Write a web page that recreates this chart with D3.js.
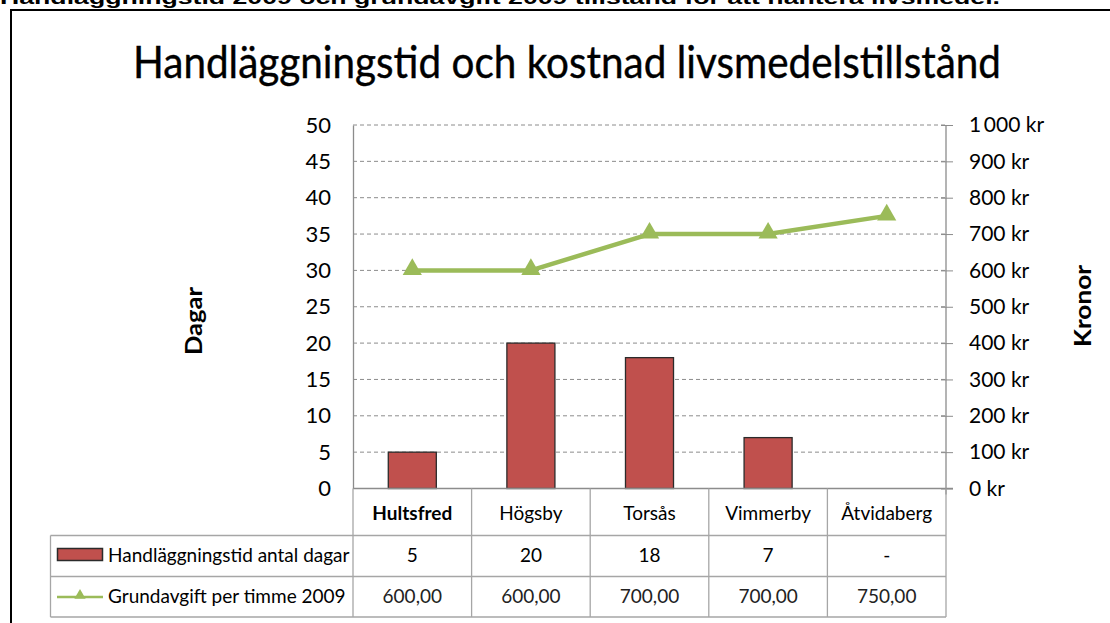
<!DOCTYPE html>
<html>
<head>
<meta charset="utf-8">
<script src="https://cdn.jsdelivr.net/npm/d3@7"></script>
<style>
  html, body { margin: 0; padding: 0; background: #fff; overflow: hidden; }
  svg { display: block; }
  text { font-family: Lato, "Open Sans", sans-serif; fill: #000; }
</style>
</head>
<body>
<svg id="chart" width="1110" height="623"></svg>
<script>
// ---- data ----
const pageHeading = "Handläggningstid 2009 och grundavgift 2009 tillstånd för att hantera livsmedel.";
const chartTitle = "Handläggningstid och kostnad livsmedelstillstånd";
const categories = ["Hultsfred", "Högsby", "Torsås", "Vimmerby", "Åtvidaberg"];
const days = [5, 20, 18, 7, null];
const fee = [600, 600, 700, 700, 750];
const daysLabels = ["5", "20", "18", "7", "-"];
const feeLabels = ["600,00", "600,00", "700,00", "700,00", "750,00"];
const leftTicks = [0, 5, 10, 15, 20, 25, 30, 35, 40, 45, 50];
const rightTicks = [0, 100, 200, 300, 400, 500, 600, 700, 800, 900, 1000];
const seriesNames = ["Handläggningstid antal dagar", "Grundavgift per timme 2009"];
const leftAxisTitle = "Dagar";
const rightAxisTitle = "Kronor";

// ---- layout ----
const svg = d3.select("#chart");
const plotL = 353, plotR = 946, plotT = 125, plotB = 488.5;
const tableL = 50.5, row1 = 535.5, row2 = 576.5, row3 = 617;
const barColor = "#c0504d", lineColor = "#9bbb59";
const gridColor = "#8c8c8c", tableColor = "#a6a6a6";

const x = d3.scaleBand().domain(categories).range([plotL, plotR]).paddingInner(0).paddingOuter(0);
const yL = d3.scaleLinear().domain([0, 50]).range([plotB, plotT]);
const yR = d3.scaleLinear().domain([0, 1000]).range([plotB, plotT]);

// page heading (cut off at top, as in the source) and outer frame
svg.append("text")
  .attr("x", 0).attr("y", 4)
  .attr("textLength", 1000).attr("lengthAdjust", "spacingAndGlyphs")
  .style("font-family", "'Liberation Sans', Arial, sans-serif")
  .style("font-weight", "bold").style("font-size", "19px")
  .text(pageHeading);
svg.append("rect")
  .attr("x", 11).attr("y", 10).attr("width", 1200).attr("height", 700)
  .attr("fill", "none").attr("stroke", "#000").attr("stroke-width", 2);

// title
svg.append("text")
  .attr("x", 567).attr("y", 78)
  .attr("text-anchor", "middle")
  .attr("textLength", 868).attr("lengthAdjust", "spacingAndGlyphs")
  .style("font-size", "44px")
  .style("stroke", "#000").style("stroke-width", 0.4)
  .text(chartTitle);

// gridlines
svg.append("g").selectAll("line")
  .data(leftTicks.filter(d => d > 0))
  .join("line")
  .attr("x1", plotL).attr("x2", plotR)
  .attr("y1", d => yL(d)).attr("y2", d => yL(d))
  .attr("stroke", gridColor).attr("stroke-width", 1)
  .attr("stroke-dasharray", "4,3");

// left axis
const leftAxis = d3.axisLeft(yL).tickValues(leftTicks).tickSize(0).tickPadding(22).tickFormat(d3.format("d"));
const gL = svg.append("g").attr("transform", `translate(${plotL},0)`).call(leftAxis);
gL.select(".domain").attr("stroke", gridColor).attr("stroke-width", 1.3);
gL.selectAll("text").style("font-family", "Lato, sans-serif").style("font-size", "22px").attr("fill", "#000");

// right axis
const rightAxis = d3.axisRight(yR).tickValues(rightTicks).tickSize(7).tickPadding(16)
  .tickFormat(d => d3.format(",")(d).replace(/,/g, "\u2009") + " kr");
const gR = svg.append("g").attr("transform", `translate(${plotR},0)`).call(rightAxis);
gR.select(".domain").attr("stroke", gridColor).attr("stroke-width", 1.3).attr("d", `M0,${plotT}V${plotB + 6}`);
gR.selectAll(".tick line").attr("stroke", gridColor).attr("x1", -5).attr("x2", 7);
gR.selectAll("text").style("font-family", "Lato, sans-serif").style("font-size", "21px").attr("fill", "#000");

// axis titles
svg.append("text")
  .attr("transform", "translate(202,321) rotate(-90)")
  .attr("text-anchor", "middle")
  .attr("textLength", 68).attr("lengthAdjust", "spacingAndGlyphs")
  .style("font-size", "22px").style("font-weight", "bold")
  .text(leftAxisTitle);
svg.append("text")
  .attr("transform", "translate(1091,306) rotate(-90)")
  .attr("text-anchor", "middle")
  .attr("textLength", 82).attr("lengthAdjust", "spacingAndGlyphs")
  .style("font-size", "22px").style("font-weight", "bold")
  .text(rightAxisTitle);

// bars
const barW = x.bandwidth() * 0.405;
svg.append("g").selectAll("rect")
  .data(categories.map((c, i) => ({ c, v: days[i] })).filter(d => d.v != null))
  .join("rect")
  .attr("x", d => x(d.c) + (x.bandwidth() - barW) / 2)
  .attr("width", barW)
  .attr("y", d => yL(d.v))
  .attr("height", d => yL(0) - yL(d.v))
  .attr("fill", barColor).attr("stroke", "#2b2b2b").attr("stroke-width", 1.3);

// zero line
svg.append("line")
  .attr("x1", plotL).attr("x2", plotR + 7)
  .attr("y1", yL(0)).attr("y2", yL(0))
  .attr("stroke", gridColor).attr("stroke-width", 1.3);

// line series
const pts = categories.map((c, i) => [x(c) + x.bandwidth() / 2, yR(fee[i])]);
svg.append("path")
  .attr("d", d3.line()(pts))
  .attr("fill", "none").attr("stroke", lineColor).attr("stroke-width", 4.5)
  .attr("stroke-linejoin", "round");
const tri = d3.symbol().type(d3.symbolTriangle).size(160);
svg.append("g").selectAll("path")
  .data(pts)
  .join("path")
  .attr("transform", d => `translate(${d[0]},${d[1] - 1})`)
  .attr("d", tri)
  .attr("fill", lineColor);

// data table
const tg = svg.append("g");
const tline = (x1, y1, x2, y2) => tg.append("line")
  .attr("x1", x1).attr("y1", y1).attr("x2", x2).attr("y2", y2)
  .attr("stroke", tableColor).attr("stroke-width", 1.3);
tline(plotL, plotB, plotL, row3);
categories.forEach(c => tline(x(c) + x.bandwidth(), plotB, x(c) + x.bandwidth(), row3));
tline(tableL, row1, plotR, row1);
tline(tableL, row2, plotR, row2);
tline(tableL, row3, plotR, row3);
tline(tableL, row1, tableL, row3);

tg.selectAll("text.cat")
  .data(categories)
  .join("text")
  .attr("class", "cat")
  .attr("x", d => x(d) + x.bandwidth() / 2).attr("y", 520)
  .attr("text-anchor", "middle")
  .style("font-size", "19px")
  .style("font-weight", (d, i) => i === 0 ? "bold" : "normal")
  .text(d => d);
tg.selectAll("text.v1")
  .data(daysLabels)
  .join("text")
  .attr("class", "v1")
  .attr("x", (d, i) => x(categories[i]) + x.bandwidth() / 2).attr("y", 562)
  .attr("text-anchor", "middle")
  .style("font-size", "19px")
  .text(d => d);
tg.selectAll("text.v2")
  .data(feeLabels)
  .join("text")
  .attr("class", "v2")
  .attr("x", (d, i) => x(categories[i]) + x.bandwidth() / 2).attr("y", 603)
  .attr("text-anchor", "middle")
  .style("fill", "#222")
  .style("font-size", "19px")
  .text(d => d);

// legend keys
tg.append("rect")
  .attr("x", 57.5).attr("y", 548.5).attr("width", 45).attr("height", 12)
  .attr("fill", barColor).attr("stroke", "#2b2b2b").attr("stroke-width", 1.5);
tg.append("text").attr("x", 108).attr("y", 562)
  .style("font-size", "19px").text(seriesNames[0]);
tg.append("line")
  .attr("x1", 57).attr("x2", 103).attr("y1", 597).attr("y2", 597)
  .attr("stroke", lineColor).attr("stroke-width", 2.5);
tg.append("path")
  .attr("transform", "translate(80,595.5)")
  .attr("d", d3.symbol().type(d3.symbolTriangle).size(55))
  .attr("fill", lineColor);
tg.append("text").attr("x", 108).attr("y", 603)
  .style("font-size", "19px").text(seriesNames[1]);
</script>
</body>
</html>
